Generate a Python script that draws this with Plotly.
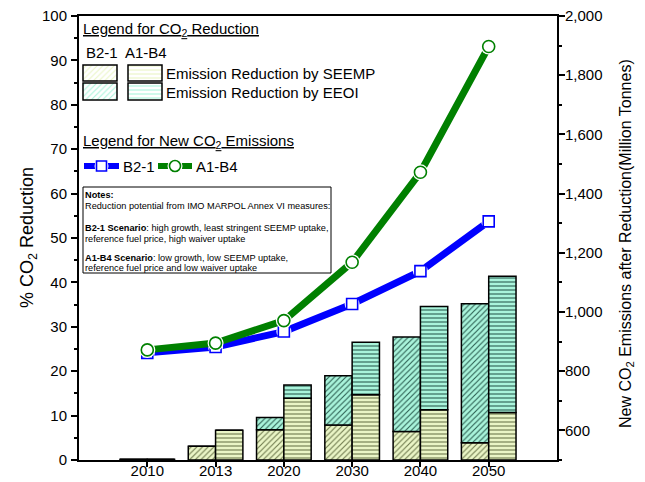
import plotly.graph_objects as go

# ---------------- data ----------------
years = ["2010", "2013", "2020", "2030", "2040", "2050"]
b21_seemp = [0.15, 3.1, 6.8, 7.9, 6.4, 3.9]
b21_eeoi = [0.0, 0.0, 2.8, 11.1, 21.3, 31.3]
a1b4_seemp = [0.15, 6.7, 13.9, 14.7, 11.3, 10.7]
a1b4_eeoi = [0.0, 0.0, 3.0, 11.8, 23.3, 30.7]
b21_emissions = [862, 882, 934, 1027, 1138, 1306]
a1b4_emissions = [872, 895, 971, 1168, 1472, 1897]

FONT = "Liberation Sans, Arial, sans-serif"
SEEMP_BG, SEEMP_FG = "#EAF5C6", "#6f7a4e"
EEOI_BG, EEOI_FG = "#A9F4DB", "#2c5f52"
BLUE, GREEN = "#0000FF", "#008000"

fig = go.Figure()

def bar(vals, base, shape, bg, fg, offset):
    return go.Bar(
        x=years, y=vals, base=base, offset=offset, width=0.4,
        marker=dict(color=bg, line=dict(color="black", width=1.5),
                    pattern=dict(shape=shape, bgcolor=bg, fgcolor=fg,
                                 size=4, solidity=0.28, fillmode="replace")),
        showlegend=False, hoverinfo="skip")

fig.add_trace(bar(b21_seemp, None, "/", SEEMP_BG, SEEMP_FG, -0.4))
fig.add_trace(bar(b21_eeoi, b21_seemp, "/", EEOI_BG, EEOI_FG, -0.4))
fig.add_trace(bar(a1b4_seemp, None, "-", SEEMP_BG, SEEMP_FG, 0.0))
fig.add_trace(bar(a1b4_eeoi, a1b4_seemp, "-", EEOI_BG, EEOI_FG, 0.0))

def series(vals, color, symbol, size, gap):
    fig.add_trace(go.Scatter(
        x=years, y=vals, yaxis="y2", mode="lines+markers",
        line=dict(color=color, width=7),
        marker=dict(color="white", size=gap, line=dict(width=0)),
        showlegend=False, hoverinfo="skip"))
    fig.add_trace(go.Scatter(
        x=years, y=vals, yaxis="y2", mode="markers",
        marker=dict(color="white", size=size, symbol=symbol,
                    line=dict(color=color, width=1.6)),
        showlegend=False, hoverinfo="skip"))

series(b21_emissions, BLUE, "square", 11, 15)
series(a1b4_emissions, GREEN, "circle", 12, 16)

# ---------------- legend decoration (inset axes in pixel units) ----------------
sw_x = [100, 145, 100, 145]
sw_h = [16, 16, 17, 17]
sw_base = [65, 65, 83, 83]
fig.add_trace(go.Bar(
    x=sw_x, y=sw_h, base=sw_base, width=34, xaxis="x3", yaxis="y3",
    marker=dict(color=[SEEMP_BG, SEEMP_BG, EEOI_BG, EEOI_BG],
                line=dict(color="black", width=1.5),
                pattern=dict(shape=["/", "-", "/", "-"],
                             bgcolor=[SEEMP_BG, SEEMP_BG, EEOI_BG, EEOI_BG],
                             fgcolor=[SEEMP_FG, SEEMP_FG, EEOI_FG, EEOI_FG],
                             size=4, solidity=0.28, fillmode="replace")),
    showlegend=False, hoverinfo="skip"))

for (x0, x1, color, symbol, size, gap) in [(84, 119, BLUE, "square", 10, 14),
                                            (158, 192, GREEN, "circle", 11, 15)]:
    xm = (x0 + x1) / 2
    fig.add_trace(go.Scatter(x=[x0, x1], y=[166, 166], xaxis="x3", yaxis="y3",
                             mode="lines", line=dict(color=color, width=6),
                             showlegend=False, hoverinfo="skip"))
    fig.add_trace(go.Scatter(x=[xm], y=[166], xaxis="x3", yaxis="y3", mode="markers",
                             marker=dict(color="white", size=gap),
                             showlegend=False, hoverinfo="skip"))
    fig.add_trace(go.Scatter(x=[xm], y=[166], xaxis="x3", yaxis="y3", mode="markers",
                             marker=dict(color="white", size=size, symbol=symbol,
                                         line=dict(color=color, width=1.6)),
                             showlegend=False, hoverinfo="skip"))

annots = []
def txt(x, y, s, size=15, **kw):
    d = dict(x=x, y=y, xref="x3", yref="y3", text=s, showarrow=False,
             xanchor="left", yanchor="middle", font=dict(family=FONT, size=size, color="black"))
    d.update(kw)
    annots.append(d)

txt(81, 29, "<u>Legend for CO<sub>2</sub> Reduction</u>")
txt(84, 52, "B2-1")
txt(123, 52, "A1-B4")
txt(164, 73, "Emission Reduction by SEEMP")
txt(164, 92, "Emission Reduction by EEOI")
txt(81, 141, "<u>Legend for New CO<sub>2</sub> Emissions</u>")
txt(121, 166, "B2-1")
txt(194, 166, "A1-B4")

notes = [(195, "<b>Notes:</b>"),
         (206, "Reduction potential from IMO MARPOL Annex VI measures:"),
         (228, "<b>B2-1 Scenario</b>: high growth, least stringent SEEMP uptake,"),
         (239, "reference fuel price, high waiver uptake"),
         (258, "<b>A1-B4 Scenario</b>: low growth, low SEEMP uptake,"),
         (268, "reference fuel price and low waiver uptake")]
for y, s in notes:
    txt(83, y, s, size=9.2)

L, R, T, B, W, H = 79, 88, 16, 22, 645, 482
pw, ph = W - L - R, H - T - B

def px_title(x, y, s, size):
    annots.append(dict(x=(x - L) / pw, y=(H - B - y) / ph, xref="paper", yref="paper",
                       xanchor="center", yanchor="middle",
                       text=s, showarrow=False, textangle=-90,
                       font=dict(family=FONT, size=size, color="black")))

px_title(28, 238, "% CO<sub>2</sub> Reduction", 18)
px_title(626, 244, "New CO<sub>2</sub> Emissions after Reduction(Million Tonnes)", 16)

shapes = [dict(type="rect", xref="x3", yref="y3", x0=83, x1=331, y0=187, y1=273,
               line=dict(color="black", width=1), fillcolor="white", layer="below")]

tickfont = dict(family=FONT, size=15, color="black")
fig.update_layout(
    width=W, height=H, margin=dict(l=L, r=R, t=T, b=B, autoexpand=False),
    paper_bgcolor="white", plot_bgcolor="rgba(0,0,0,0)",
    barmode="overlay",
    font=dict(family=FONT, color="black"),
    xaxis=dict(type="category", range=[-1, 6], showline=True, linecolor="black", linewidth=2,
               mirror=True, ticks="outside", ticklen=5, tickwidth=2, tickcolor="black",
               ticklabelstandoff=-9,
               showgrid=False, zeroline=False, tickfont=tickfont, automargin=False),
    yaxis=dict(range=[0, 100], dtick=10, showline=True, linecolor="black", linewidth=2,
               ticks="outside", ticklen=6, tickwidth=2, tickcolor="black", ticklabelstandoff=1,
               minor=dict(dtick=5, ticks="outside", ticklen=3, tickwidth=2, tickcolor="black"),
               showgrid=False, zeroline=False, tickfont=tickfont, automargin=False),
    yaxis2=dict(range=[500, 2000], dtick=200, tickformat=",", overlaying="y", side="right",
                showline=True, linecolor="black", linewidth=2,
                ticks="outside", ticklen=6, tickwidth=2, tickcolor="black", ticklabelstandoff=-3,
                minor=dict(dtick=100, ticks="outside", ticklen=3, tickwidth=2, tickcolor="black"),
                showgrid=False, zeroline=False, tickfont=tickfont, automargin=False),
    xaxis3=dict(domain=[0, 1], range=[L, W - R], anchor="y3", visible=False,
                fixedrange=True, automargin=False),
    yaxis3=dict(domain=[0, 1], range=[H - B, T], anchor="x3", visible=False,
                fixedrange=True, automargin=False),
    annotations=annots,
    shapes=shapes,
)

fig.write_html("out.html", config={"displayModeBar": False},
               post_script="document.body.style.margin='0px';")
